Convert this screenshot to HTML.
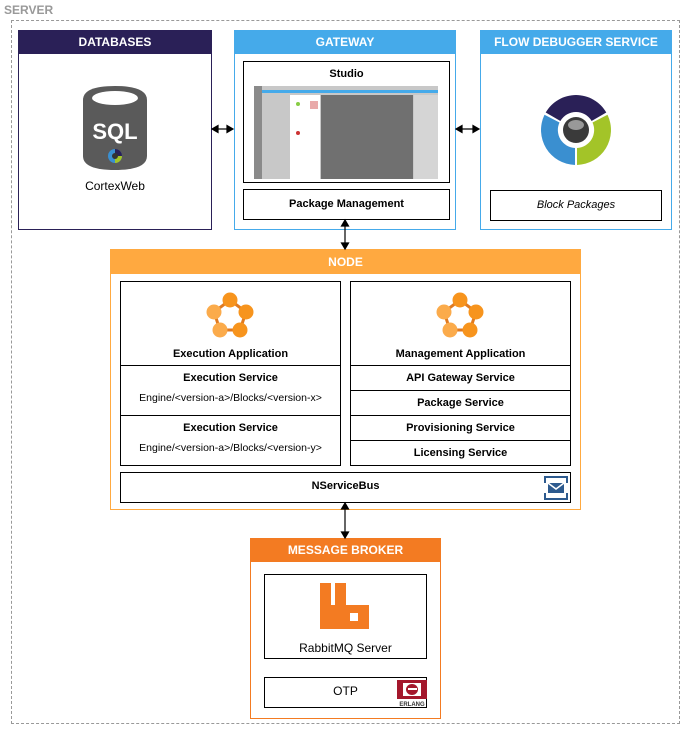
<!DOCTYPE html>
<html><head><meta charset="utf-8"><style>
*{box-sizing:border-box;margin:0;padding:0}
body{width:681px;height:729px;background:#fff;position:relative;font-family:"Liberation Sans",Arial,sans-serif;overflow:hidden}
.a{position:absolute}
.box{position:absolute;border:1px solid #000;background:#fff}
.hdr{position:absolute;left:0;right:0;top:0;color:#fff;font-weight:bold;font-size:12px;text-align:center}
.t{position:absolute;left:0;right:0;text-align:center;font-size:11px;color:#000}
.b{font-weight:bold}
</style></head><body>
<div class="a" style="left:4px;top:3px;font-size:12px;font-weight:bold;color:#999">SERVER</div>
<div class="a" style="left:11px;top:20px;width:669px;height:704px;border:1px dashed #999"></div>

<!-- DATABASES -->
<div class="a" style="left:18px;top:30px;width:194px;height:200px;border:1px solid #2a2057;background:#fff">
 <div class="hdr" style="background:#2a2057;height:23px;line-height:23px">DATABASES</div>
 <svg class="a" style="left:62px;top:55px" width="68" height="85" viewBox="0 0 68 85">
  <path d="M2 14 Q2 0 34 0 Q66 0 66 14 V70 Q66 84 34 84 Q2 84 2 70Z" fill="#5a5a5a"/>
  <ellipse cx="34" cy="12" rx="23" ry="7" fill="#fff"/>
  <text x="34" y="53" font-family="Liberation Sans" font-weight="bold" font-size="22" fill="#fff" text-anchor="middle">SQL</text>
  <circle cx="34" cy="70" r="7" fill="#3a8fd0"/><path d="M34 63 A7 7 0 0 1 41 70 H34Z" fill="#2a2057"/><path d="M41 70 A7 7 0 0 1 34 77 V70Z" fill="#a3c428"/><circle cx="34" cy="70" r="3" fill="#333"/>
 </svg>
 <div class="t" style="top:148px;font-size:12px">CortexWeb</div>
</div>

<!-- GATEWAY -->
<div class="a" style="left:234px;top:30px;width:222px;height:200px;border:1px solid #45aaea;background:#fff">
 <div class="hdr" style="background:#45aaea;height:23px;line-height:23px">GATEWAY</div>
</div>
<div class="box" style="left:243px;top:61px;width:207px;height:122px">
 <div class="t b" style="top:6px">Studio</div>
 <div class="a" style="left:10px;top:24px;width:184px;height:93px;background:#c8c8c8">
  <div class="a" style="left:0;top:0;width:8px;height:93px;background:#8a8a8a"></div>
  <div class="a" style="left:8px;top:4px;width:176px;height:3px;background:#45aaea"></div>
  <div class="a" style="left:36px;top:9px;width:30px;height:84px;background:#fff"></div>
  <div class="a" style="left:67px;top:9px;width:92px;height:84px;background:#707070"></div>
  <div class="a" style="left:160px;top:9px;width:24px;height:84px;background:#d5d5d5"></div>
  <div class="a" style="left:42px;top:16px;width:4px;height:4px;border-radius:2px;background:#8c4"></div>
  <div class="a" style="left:42px;top:45px;width:4px;height:4px;border-radius:2px;background:#c33"></div>
  <div class="a" style="left:56px;top:15px;width:8px;height:8px;background:#e9aaaa"></div>
 </div>
</div>
<div class="box" style="left:243px;top:189px;width:207px;height:31px"><div class="t b" style="top:8px">Package Management</div></div>

<!-- FLOW DEBUGGER -->
<div class="a" style="left:480px;top:30px;width:192px;height:200px;border:1px solid #45aaea;background:#fff">
 <div class="hdr" style="background:#45aaea;height:23px;line-height:23px">FLOW DEBUGGER SERVICE</div>
 <svg class="a" style="left:59px;top:63px" width="72" height="72" viewBox="-36 -36 72 72">
  <path d="M-30.3 -17.5 A35 35 0 0 1 30.3 -17.5 L15.6 -9 A18 18 0 0 0 -15.6 -9Z" fill="#2a2057"/>
  <path d="M31.5 -15.2 A35 35 0 0 1 1 35 L1 18 A18 18 0 0 0 16.5 -7.5Z" fill="#a3c428"/>
  <path d="M-1 35 A35 35 0 0 1 -31.5 -15.2 L-16.5 -7.5 A18 18 0 0 0 -1 18Z" fill="#3a8fd0"/>
  <circle r="13" fill="#3a3a3a"/><ellipse cx="0" cy="-5" rx="8" ry="5" fill="#999"/>
 </svg>
 <div class="box" style="left:9px;top:159px;width:172px;height:31px"><div class="t" style="top:8px;font-style:italic">Block Packages</div></div>
</div>

<!-- NODE -->
<div class="a" style="left:110px;top:249px;width:471px;height:261px;border:1px solid #ffa940;background:#fff">
 <div class="hdr" style="background:#ffa940;height:24px;line-height:24px">NODE</div>
</div>
<svg width="0" height="0" style="position:absolute"><defs><g id="st">
 <g stroke="#e07a20" stroke-width="3"><polygon points="25,8 41,20 35,38 15,38 9,20" fill="none"/></g>
 <circle cx="25" cy="8" r="7.5" fill="#f7941d"/><circle cx="41" cy="20" r="7.5" fill="#f7941d"/><circle cx="35" cy="38" r="7.5" fill="#f7941d"/><circle cx="15" cy="38" r="7.5" fill="#fbab4b"/><circle cx="9" cy="20" r="7.5" fill="#fbab4b"/>
</g></defs></svg>
<div class="box" style="left:120px;top:281px;width:221px;height:185px">
 <svg class="a" style="left:84px;top:10px" width="50" height="48"><use href="#st"/></svg>
 <div class="t b" style="top:66px">Execution Application</div>
 <div class="a" style="left:0;right:0;top:83px;border-top:1px solid #000"></div>
 <div class="t b" style="top:90px">Execution Service</div>
 <div class="t" style="top:110px;font-size:10.5px">Engine/&lt;version-a&gt;/Blocks/&lt;version-x&gt;</div>
 <div class="a" style="left:0;right:0;top:133px;border-top:1px solid #000"></div>
 <div class="t b" style="top:140px">Execution Service</div>
 <div class="t" style="top:160px;font-size:10.5px">Engine/&lt;version-a&gt;/Blocks/&lt;version-y&gt;</div>
</div>
<div class="box" style="left:350px;top:281px;width:221px;height:185px">
 <svg class="a" style="left:84px;top:10px" width="50" height="48"><use href="#st"/></svg>
 <div class="t b" style="top:66px">Management Application</div>
 <div class="a" style="left:0;right:0;top:83px;border-top:1px solid #000"></div>
 <div class="t b" style="top:90px">API Gateway Service</div>
 <div class="a" style="left:0;right:0;top:108px;border-top:1px solid #000"></div>
 <div class="t b" style="top:115px">Package Service</div>
 <div class="a" style="left:0;right:0;top:133px;border-top:1px solid #000"></div>
 <div class="t b" style="top:140px">Provisioning Service</div>
 <div class="a" style="left:0;right:0;top:158px;border-top:1px solid #000"></div>
 <div class="t b" style="top:165px">Licensing Service</div>
</div>
<div class="box" style="left:120px;top:472px;width:451px;height:31px">
 <div class="t b" style="top:7px">NServiceBus</div>
 <svg class="a" style="left:423px;top:3px" width="24" height="24"><path d="M1 7V1h22v6M1 17v6h22v-6" fill="none" stroke="#2d5a8e" stroke-width="2"/><path d="M4 7h16v10H4z" fill="#2d5a8e"/><path d="M4 7l8 6 8-6" fill="none" stroke="#fff" stroke-width="1.5"/></svg>
</div>

<!-- MESSAGE BROKER -->
<div class="a" style="left:250px;top:538px;width:191px;height:181px;border:1px solid #f37b22;background:#fff">
 <div class="hdr" style="background:#f37b22;height:23px;line-height:23px">MESSAGE BROKER</div>
</div>
<div class="box" style="left:264px;top:574px;width:163px;height:85px">
 <svg class="a" style="left:55px;top:8px" width="50" height="46"><path d="M0 0h11v22h4V0h11v22h23v24H0z" fill="#f37b22"/><rect x="30" y="30" width="8" height="8" fill="#fff"/></svg>
 <div class="t" style="top:66px;font-size:12px">RabbitMQ Server</div>
</div>
<div class="box" style="left:264px;top:677px;width:163px;height:31px">
 <div class="t" style="top:6px;font-size:12px">OTP</div>
 <svg class="a" style="left:132px;top:2px" width="30" height="27"><rect x="0" y="0" width="30" height="19" fill="#a4172c"/><path d="M6 3h18v13H6z" fill="#fff"/><ellipse cx="15" cy="9.5" rx="6" ry="5.5" fill="#a4172c"/><rect x="11" y="8" width="9" height="2" fill="#fff"/><text x="15" y="26" font-size="6" font-family="Liberation Sans" text-anchor="middle" fill="#333" font-weight="bold">ERLANG</text></svg>
</div>

<!-- arrows (on top) -->
<svg class="a" style="left:0;top:0" width="681" height="729">
 <g stroke="#000" stroke-width="1.2" fill="#000">
  <line x1="215" y1="129" x2="230" y2="129"/><path d="M212 129l6-3.5v7z M233 129l-6-3.5v7z"/>
  <line x1="459" y1="129" x2="476" y2="129"/><path d="M456 129l6-3.5v7z M479 129l-6-3.5v7z"/>
  <line x1="345" y1="224" x2="345" y2="245"/><path d="M345 220l-3.5 6h7z M345 249l-3.5-6h7z"/>
  <line x1="345" y1="507" x2="345" y2="534"/><path d="M345 503l-3.5 6h7z M345 538l-3.5-6h7z"/>
 </g>
</svg>
</body></html>
